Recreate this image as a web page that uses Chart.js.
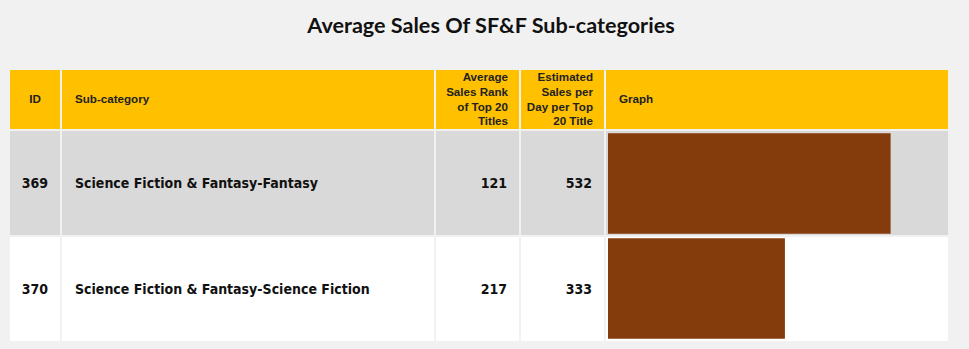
<!DOCTYPE html>
<html>
<head>
<meta charset="utf-8">
<script src="https://cdn.jsdelivr.net/npm/chart.js@4/dist/chart.umd.min.js"></script>
<style>
  html, body { margin: 0; padding: 0; }
  body { width: 969px; height: 349px; background: #f1f1f1; position: relative; overflow: hidden; }
  #title { position: absolute; left: 0; top: 12px; width: 982px; text-align: center;
           font: bold 21.6px "Lato", "Open Sans", sans-serif; color: #111; }
  table { position: absolute; left: 8px; top: 68px; border-collapse: separate; border-spacing: 2px;
          table-layout: fixed; }
  th { background: #ffc000; height: 59px; padding: 0 12px 0 13px; font: bold 11.6px/14.6px "Liberation Sans", Arial, sans-serif;
       color: #222; vertical-align: middle; box-sizing: border-box; }
  th.r { padding: 0 11px 0 0; }
  th.c { padding: 0; }
  td { height: 104px; padding: 0 12px 0 13px; font-family: "DejaVu Sans Condensed", "DejaVu Sans", Verdana, sans-serif;
       font-weight: bold; font-size: 14px; font-stretch: condensed; color: #111; vertical-align: middle; box-sizing: border-box; }
  td.c { padding: 0; }
  td.r { padding: 0 12px 0 0; }
  tr.r0 td { background: #d9d9d9; }
  tr.r1 td { background: #ffffff; }
  .c { text-align: center; } .l { text-align: left; } .r { text-align: right; }
  #chartBox { position: absolute; left: 606px; top: 131px; width: 342px; height: 210px; }
</style>
</head>
<body>
<div id="title">Average Sales Of SF&amp;F Sub-categories</div>
<table id="tbl"></table>
<div id="chartBox"><canvas id="chart"></canvas></div>
<script>
const title = "Average Sales Of SF&F Sub-categories";
const headers = ["ID", "Sub-category", "Average Sales Rank of Top 20 Titles", "Estimated Sales per Day per Top 20 Title", "Graph"];
const ids = ["369", "370"];
const subCategories = ["Science Fiction & Fantasy-Fantasy", "Science Fiction & Fantasy-Science Fiction"];
const avgSalesRank = [121, 217];
const salesPerDay = [532, 333];

const widths = [50, 372, 83, 83, 342];
const aligns = ["c", "l", "r", "r", "l"];
const tbl = document.getElementById("tbl");
const colg = document.createElement("colgroup");
widths.forEach(w => { const c = document.createElement("col"); c.style.width = w + "px"; colg.appendChild(c); });
tbl.appendChild(colg);
const hr = document.createElement("tr");
headers.forEach((h, i) => {
  const th = document.createElement("th");
  th.className = aligns[i];
  th.textContent = h;
  hr.appendChild(th);
});
tbl.appendChild(hr);
ids.forEach((id, k) => {
  const tr = document.createElement("tr");
  tr.className = "r" + k;
  [id, subCategories[k], String(avgSalesRank[k]), String(salesPerDay[k]), ""].forEach((v, i) => {
    const td = document.createElement("td");
    td.className = aligns[i];
    td.textContent = v;
    tr.appendChild(td);
  });
  tbl.appendChild(tr);
});

new Chart(document.getElementById("chart"), {
  type: "bar",
  data: {
    labels: ids,
    datasets: [{
      data: salesPerDay,
      backgroundColor: "#843c0c",
      borderWidth: 0,
      categoryPercentage: 1,
      barPercentage: 0.955
    }]
  },
  options: {
    indexAxis: "y",
    responsive: true,
    maintainAspectRatio: false,
    animation: false,
    layout: { padding: { left: 2, right: 0, top: 0, bottom: 0 } },
    plugins: { legend: { display: false }, tooltip: { enabled: false }, title: { display: false } },
    scales: {
      x: { display: false, min: 0, max: 640 },
      y: { display: false }
    }
  }
});
</script>
</body>
</html>
